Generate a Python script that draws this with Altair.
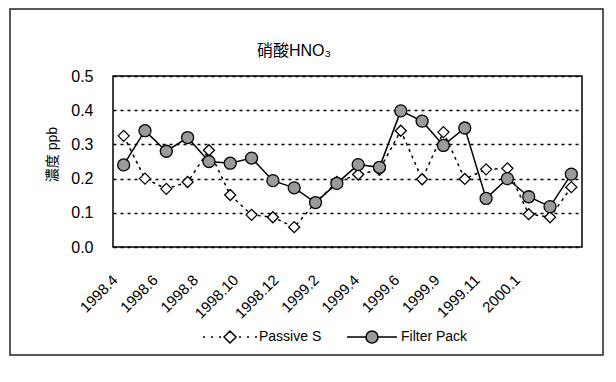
import altair as alt
import pandas as pd

months = ["1998.4", "1998.5", "1998.6", "1998.7", "1998.8", "1998.9", "1998.10",
          "1998.11", "1998.12", "1999.1", "1999.2", "1999.3", "1999.4", "1999.5",
          "1999.6", "1999.7", "1999.9", "1999.10", "1999.11", "1999.12", "2000.1",
          "2000.2"]
passive = [0.325, 0.200, 0.170, 0.190, 0.283, 0.152, 0.094, 0.087, 0.058, 0.130,
           0.190, 0.212, 0.226, 0.340, 0.198, 0.336, 0.199, 0.227, 0.230, 0.096,
           0.087, 0.175]
filter_pack = [0.240, 0.340, 0.280, 0.320, 0.250, 0.245, 0.260, 0.194, 0.173, 0.130,
               0.186, 0.241, 0.233, 0.398, 0.368, 0.297, 0.348, 0.142, 0.200, 0.147,
               0.118, 0.213]
tick_labels = ["1998.4", "1998.6", "1998.8", "1998.10", "1998.12", "1999.2",
               "1999.4", "1999.6", "1999.9", "1999.11", "2000.1"]
y_ticks = [0.0, 0.1, 0.2, 0.3, 0.4, 0.5]
series_names = ["Passive S", "Filter Pack"]
chart_title = "硝酸HNO₃"

FONT = "Liberation Sans, Noto Sans CJK JP"

rows = []
for m, p, f in zip(months, passive, filter_pack):
    rows.append({"month": m, "series": "Passive S", "value": p})
    rows.append({"month": m, "series": "Filter Pack", "value": f})
df = pd.DataFrame(rows)

x_enc = alt.X(
    "month:N", sort=months,
    scale=alt.Scale(type="point", padding=0.5),
    axis=alt.Axis(values=tick_labels, labelAngle=-45, labelAlign="right",
                  labelBaseline="middle", labelPadding=30,
                  labelOffset=alt.ExprRef(expr="-9 - 24 * datum.index"),
                  ticks=False, domain=False, grid=False, title=None,
                  labelFont=FONT, labelFontSize=15, labelColor="black"),
)
y_enc = alt.Y(
    "value:Q",
    scale=alt.Scale(domain=[0, 0.5]),
    axis=alt.Axis(values=y_ticks, format=".1f", ticks=False, domain=False,
                  grid=True, gridColor="black", gridDash=[3, 4], gridWidth=1.3,
                  labelPadding=20, labelFont=FONT, labelFontSize=16,
                  labelColor="black",
                  title="濃度 ppb", titleFont=FONT, titleFontSize=14,
                  titleFontWeight="normal", titleColor="black",
                  titleX=-61, titleY=78, titleAngle=-90,
                  titleAlign="center", titleBaseline="middle"),
)

base = alt.Chart(df)

frame = alt.Chart(alt.Data(values=[{"a": 1}])).mark_rect(
    fill="white", fillOpacity=0, stroke="#222222", strokeWidth=1.5
).encode(x=alt.value(-103), x2=alt.value(490), y=alt.value(-67), y2=alt.value(279))

title_layer = alt.Chart(alt.Data(values=[{"t": chart_title}])).mark_text(
    font=FONT, fontSize=16, color="black", align="center", baseline="middle"
).encode(text="t:N", x=alt.value(181), y=alt.value(-25))

p_line = base.transform_filter(alt.datum.series == "Passive S").mark_line(
    color="black", strokeWidth=1.5, strokeDash=[3, 4]
).encode(x=x_enc, y=y_enc)
p_pts = base.transform_filter(alt.datum.series == "Passive S").mark_point(
    shape="diamond", size=121, filled=True, fill="white", stroke="black",
    strokeWidth=1.3, opacity=1
).encode(x=x_enc, y=y_enc)
f_line = base.transform_filter(alt.datum.series == "Filter Pack").mark_line(
    color="black", strokeWidth=1.5
).encode(x=x_enc, y=y_enc)
f_pts = base.transform_filter(alt.datum.series == "Filter Pack").mark_point(
    shape="circle", size=144, filled=True, fill="#9a9a9a", stroke="black",
    strokeWidth=1.3, opacity=1
).encode(x=x_enc, y=y_enc)

passive_path = ("M -5.4 0 L -5.0 0 M -3.8 0 L -3.4 0 M -2.2 0 L -1.8 0 "
                "M 1.8 0 L 2.2 0 M 3.4 0 L 3.8 0 M 5.0 0 L 5.4 0 "
                "M -1.2 0 L 0 -1.2 L 1.2 0 L 0 1.2 Z")
filter_path = ("M -5 0 L -1.2 0 M 1.2 0 L 5 0 "
               "M 1.2 0 A 1.2 1.2 0 1 1 -1.2 0 A 1.2 1.2 0 1 1 1.2 0 Z")
legend_paths = [passive_path, filter_path]

leg_def = alt.Legend(title=None, orient="none", legendX=110, legendY=254,
                     direction="horizontal", labelFont=FONT, labelFontSize=14,
                     labelColor="black", labelOffset=22, columnPadding=22,
                     symbolStrokeColor="black", symbolStrokeWidth=1.5,
                     symbolSize=100)

legend_layer = alt.Chart(
    alt.Data(values=[{"series": s} for s in series_names])
).transform_filter("false").mark_point(
    filled=True, stroke="black", strokeWidth=1.5, size=100, opacity=1
).encode(
    shape=alt.Shape("series:N", scale=alt.Scale(domain=series_names, range=legend_paths),
                    legend=leg_def),
    fill=alt.Fill("series:N", scale=alt.Scale(domain=series_names, range=["white", "#9a9a9a"]),
                  legend=leg_def),
    stroke=alt.Stroke("series:N", scale=alt.Scale(domain=series_names, range=["black", "black"]),
                      legend=leg_def),
)

chart = alt.layer(frame, title_layer, p_line, p_pts, f_line, f_pts, legend_layer).properties(
    width=469, height=171,
    autosize=alt.AutoSizeParams(type="none"),
    padding={"left": 105, "top": 68, "right": 26, "bottom": 121},
    background="white",
).configure_view(stroke="black", strokeWidth=1.5)

chart.save("out.html", embed_options={"renderer": "svg", "actions": False})
